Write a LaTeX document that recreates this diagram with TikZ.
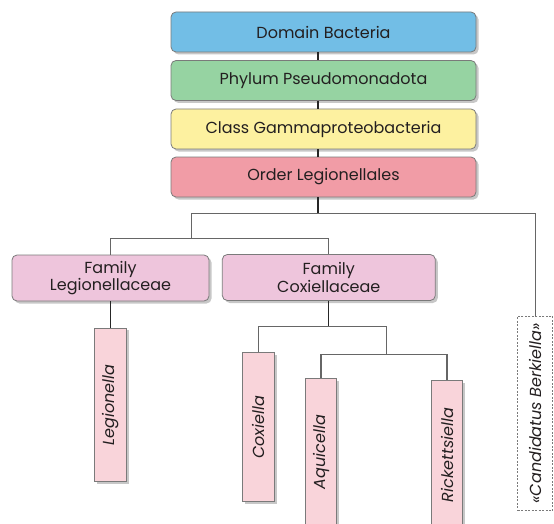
\documentclass[tikz,border=0pt]{standalone}
\usepackage{fontspec}
\usepackage{graphicx}
\setmainfont{Poppins}
\usetikzlibrary{shadows}
\definecolor{cdom}{HTML}{72BEE6}
\definecolor{cphy}{HTML}{96D3A2}
\definecolor{ccls}{HTML}{FDF1A0}
\definecolor{cord}{HTML}{F19CA6}
\definecolor{cfam}{HTML}{EEC5DC}
\definecolor{cgen}{HTML}{F9D4DA}
\definecolor{txt}{HTML}{231F20}
\definecolor{bord}{HTML}{7A7A7A}
\begin{document}
\begin{tikzpicture}[x=1pt,y=1pt,
  font=\fontsize{16}{17.5}\selectfont, text=txt,
  base/.style={draw=bord, line width=0.8pt, inner sep=0pt,
    drop shadow={shadow xshift=2.5pt,shadow yshift=-2.5pt,opacity=0.22,fill=black}},
  topbox/.style={base, rounded corners=5pt, minimum width=305pt, minimum height=40pt},
  fambox/.style={base, fill=cfam, rounded corners=5pt, minimum height=46pt, align=center},
  genbox/.style={base, fill=cgen, minimum width=31.4pt, font=\fontsize{16}{17}\selectfont\itshape},
  candbox/.style={draw=bord, dashed, dash pattern=on 2pt off 1.5pt, line width=0.8pt, fill=white,
    inner sep=0pt, minimum width=35pt, minimum height=194.7pt, font=\fontsize{16}{17}\selectfont\itshape},
  stem/.style={draw=black!85, line width=1.1pt},
  conn/.style={draw=black!60, line width=1.1pt}]
\clip (0,0) rectangle (554,-524);
\node[topbox, fill=cdom] (dom) at (323.5,-32) {Domain Bacteria};
\node[topbox, fill=cphy] (phy) at (323.5,-80.5) {Phylum Pseudomonadota};
\node[topbox, fill=ccls] (cls) at (323.5,-129) {Class Gammaproteobacteria};
\node[topbox, fill=cord] (ord) at (323.5,-177) {Order Legionellales};

\node[fambox, minimum width=197pt] (fam1) at (110.5,-278) {Family\\Legionellaceae};
\node[fambox, minimum width=213pt] (fam2) at (328.8,-277.5) {Family\\Coxiellaceae};

\node[genbox, minimum height=153.7pt] (leg) at (110.5,-404.8) {\rotatebox{90}{Legionella}};
\node[genbox, minimum height=149pt] (cox) at (258.3,-427.2) {\rotatebox{90}{Coxiella}};
\node[genbox, minimum height=148pt] (aqu) at (321,-452) {\rotatebox{90}{Aquicella}};
\node[genbox, minimum height=150pt] (ric) at (447,-455) {\rotatebox{90}{Rickettsiella}};
\node[candbox] (cand) at (535.2,-413.3) {\rotatebox{90}{«Candidatus Berkiella»}};

\coordinate (j0) at (318,-213.3);
\coordinate (jl) at (191.7,-213.3);
\coordinate (jr) at (535.2,-213.3);
\coordinate (h2) at (191.7,-238.5);
\coordinate (c1) at (328.8,-326.7);
\coordinate (c2) at (386.7,-354.5);

\draw[stem] (dom.south -| j0) -- (phy.north -| j0);
\draw[stem] (phy.south -| j0) -- (cls.north -| j0);
\draw[stem] (cls.south -| j0) -- (ord.north -| j0);
\draw[stem] (ord.south -| j0) -- (j0);
\draw[conn] (jl) -- (jr) -- (cand.north);
\draw[conn] (jl) -- (h2);
\draw[conn] (fam1.north) |- (h2) -| (fam2.north);
\draw[stem] (fam1.south) -- (leg.north);
\draw[stem] (fam2.south) -- (c1);
\draw[conn] (cox.north) |- (c1) -| (c2);
\draw[conn] (aqu.north) |- (c2) -| (ric.north);
\end{tikzpicture}
\end{document}
